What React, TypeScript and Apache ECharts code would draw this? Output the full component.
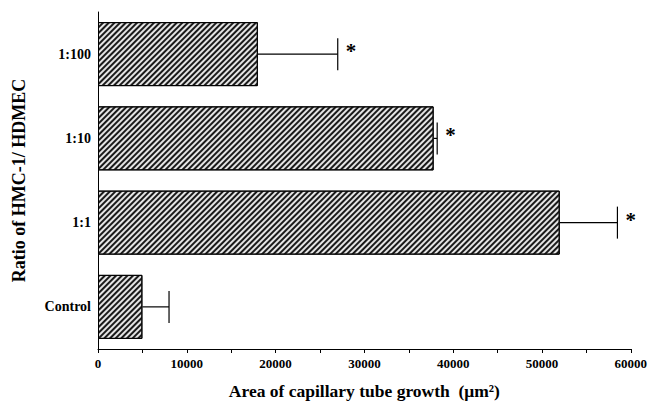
import React, { useEffect, useRef } from "react";
import * as echarts from "echarts";

const categories = ["Control", "1:1", "1:10", "1:100"];
const means = [5000, 52000, 37800, 18000];
const errorHigh = [8000, 58500, 38200, 27000];
const significant = [false, true, true, true];
const xTicks = [0, 10000, 20000, 30000, 40000, 50000, 60000];

const FONT = "'Liberation Serif', 'Times New Roman', serif";

export default function App() {
  const ref = useRef<HTMLDivElement>(null);
  useEffect(() => {
    if (!ref.current) return;
    const chart = echarts.init(ref.current, undefined, { renderer: "svg" });
    const errData = categories.map((c, i) => [i, means[i], errorHigh[i], significant[i] ? 1 : 0]);
    chart.setOption({
      animation: false,
      backgroundColor: "#fff",
      grid: { left: 98, right: 17, top: 12, bottom: 43, containLabel: false },
      xAxis: {
        type: "value",
        min: xTicks[0],
        max: xTicks[xTicks.length - 1],
        interval: 10000,
        name: "Area of capillary tube growth  (μm²)",
        nameLocation: "middle",
        nameGap: 33,
        nameTextStyle: { fontFamily: FONT, fontWeight: "bold", fontSize: 17.5, color: "#000" },
        axisLine: { show: true, lineStyle: { color: "#000", width: 1 } },
        axisTick: { show: true, length: 4, lineStyle: { color: "#000" } },
        minorTick: { show: true, splitNumber: 2, length: 4, lineStyle: { color: "#000" } },
        splitLine: { show: false },
        axisLabel: {
          fontFamily: FONT,
          fontWeight: "bold",
          fontSize: 13,
          color: "#000",
          margin: 8,
          formatter: (v: number) => String(v),
        },
      },
      yAxis: {
        type: "category",
        data: categories,
        name: "Ratio of HMC-1/ HDMEC",
        nameLocation: "middle",
        nameGap: 70,
        nameTextStyle: { fontFamily: FONT, fontWeight: "bold", fontSize: 18, color: "#000" },
        axisLine: { show: true, lineStyle: { color: "#000", width: 1 } },
        axisTick: { show: false },
        axisLabel: { fontFamily: FONT, fontWeight: "bold", fontSize: 14, color: "#000", margin: 7 },
      },
      series: [
        {
          type: "bar",
          data: means,
          barCategoryGap: "24%",
          itemStyle: {
            color: "#e4e4e4",
            borderColor: "#000",
            borderWidth: 1,
            decal: {
              symbol: "rect",
              symbolSize: 1,
              dashArrayX: [1, 0],
              dashArrayY: [1.3, 1.2],
              rotation: -Math.PI / 4,
              color: "#1a1a1a",
            },
          },
          z: 2,
        },
        {
          type: "custom",
          data: errData,
          z: 3,
          renderItem: (params: any, api: any) => {
            const idx = api.value(0);
            const m = api.value(1);
            const h = api.value(2);
            const sig = api.value(3);
            const p0 = api.coord([m, idx]);
            const p1 = api.coord([h, idx]);
            const capHalf = 16;
            const children: any[] = [
              {
                type: "line",
                shape: { x1: p0[0], y1: p0[1], x2: p1[0], y2: p1[1] },
                style: { stroke: "#000", lineWidth: 1.2 },
              },
              {
                type: "line",
                shape: { x1: p1[0], y1: p1[1] - capHalf, x2: p1[0], y2: p1[1] + capHalf },
                style: { stroke: "#000", lineWidth: 1.2 },
              },
            ];
            if (sig) {
              children.push({
                type: "text",
                x: p1[0] + 8,
                y: p1[1] - 3,
                style: {
                  text: "*",
                  fontFamily: FONT,
                  fontWeight: "bold",
                  fontSize: 21,
                  fill: "#000",
                  textAlign: "left",
                  textVerticalAlign: "middle",
                },
              });
            }
            return { type: "group", children };
          },
        },
      ],
    });
    return () => chart.dispose();
  }, []);
  return <div ref={ref} style={{ width: 650, height: 405, position: "absolute", left: 0, top: 0 }} />;
}
